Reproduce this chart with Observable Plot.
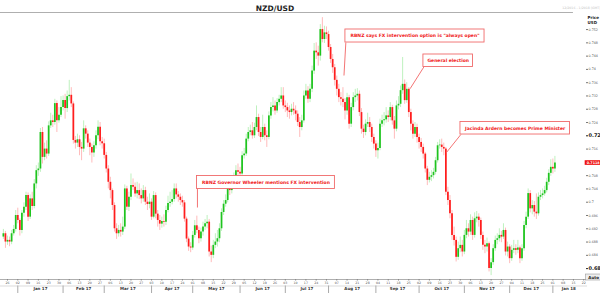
<!DOCTYPE html>
<html><head><meta charset="utf-8">
<script src="https://cdn.jsdelivr.net/npm/d3@7"></script>
<script src="https://cdn.jsdelivr.net/npm/@observablehq/plot@0.6"></script>
<style>
body{margin:0;background:#fff;}
#wrap{width:600px;height:293px;overflow:hidden;}
</style></head><body><div id="wrap"></div>
<script>
// trading-day index 0 = Mon 26 Dec 2016; first candle is index -2
const firstIndex = -2;
const firstOpen = 0.6895;
const closes = [
.6905,.6880,.6885,.6880,.6905,.6918,.6960,.6945,.6915,.6967,.6985,.7020,.6955,.7010,.6987,.7055,.7095,.7100,.7210,.7135,
.7160,.7145,.7230,.7245,.7240,.7297,.7245,.7262,.7285,.7306,.7282,.7318,.7322,.7296,.7186,.7178,.7188,.7165,.7160,.7221,
.7205,.7178,.7165,.7148,.7170,.7200,.7226,.7182,.7176,.7141,.7100,.7060,.7035,.6990,.6920,.6905,.6915,.6910,.6925,.7040,
.6985,.7015,.7050,.7045,.7025,.7035,.7020,.7010,.7035,.7000,.6993,.7000,.6955,.7020,.6964,.6945,.6934,.6942,.6940,.6975,
.6996,.7000,.7008,.7040,.7022,.7015,.7005,.6998,.6949,.6889,.6865,.6862,.6900,.6929,.6915,.6890,.6910,.6925,.6935,.6940,
.6850,.6840,.6870,.6880,.6890,.6920,.6969,.6994,.7005,.7044,.7035,.7045,.7075,.7095,.7090,.7085,.7140,.7145,.7190,.7210,
.7215,.7200,.7225,.7255,.7210,.7195,.7225,.7200,.7195,.7260,.7285,.7290,.7275,.7300,.7310,.7320,.7290,.7285,.7275,.7270,
.7280,.7275,.7265,.7240,.7225,.7245,.7320,.7335,.7310,.7340,.7395,.7455,.7450,.7440,.7520,.7490,.7510,.7505,.7466,.7430,
.7405,.7367,.7340,.7315,.7310,.7300,.7275,.7315,.7235,.7285,.7315,.7320,.7325,.7270,.7220,.7210,.7235,.7240,.7225,.7195,
.7175,.7155,.7162,.7235,.7245,.7248,.7260,.7255,.7285,.7245,.7220,.7290,.7295,.7336,.7355,.7306,.7340,.7270,.7235,.7205,
.7225,.7195,.7180,.7165,.7145,.7100,.7066,.7075,.7080,.7090,.7125,.7170,.7172,.7165,.7160,.7030,.7005,.6965,.6900,.6885,
.6834,.6860,.6870,.6850,.6900,.6920,.6910,.6945,.6900,.6950,.6955,.6945,.6900,.6870,.6865,.6875,.6800,.6818,.6860,.6885,
.6890,.6900,.6895,.6915,.6850,.6865,.6830,.6855,.6860,.6855,.6862,.6830,.6860,.6930,.6955,.7026,.6980,.6990,.6970,.6965,
.7015,.7020,.7025,.7035,.7060,.7087,.7105,.7100,.7118];
const highs = [
.6918,.6912,.6898,.6895,.6915,.6930,.6975,.6982,.6950,.6975,.6998,.7030,.7028,.7022,.7030,.7068,.7110,.7118,.7222,.7225,
.7178,.7185,.7242,.7268,.7262,.7310,.7305,.7285,.7318,.7320,.7325,.7335,.7367,.7345,.7302,.7198,.7205,.7200,.7180,.7245,
.7230,.7215,.7190,.7175,.7182,.7215,.7245,.7240,.7195,.7190,.7150,.7110,.7075,.7040,.6998,.6935,.6930,.6935,.6955,.7052,
.7048,.7030,.7085,.7070,.7058,.7060,.7055,.7040,.7050,.7045,.7015,.7025,.7010,.7032,.7028,.6975,.6960,.6955,.6962,.6988,
.7018,.7030,.7035,.7055,.7055,.7032,.7025,.7018,.7005,.6955,.6895,.6878,.6912,.6945,.6958,.6925,.6922,.6940,.6948,.6960,
.6948,.6868,.6885,.6905,.6915,.6935,.6980,.7005,.7022,.7058,.7060,.7065,.7088,.7110,.7115,.7105,.7152,.7162,.7205,.7225,
.7232,.7240,.7238,.7290,.7265,.7225,.7262,.7235,.7215,.7272,.7300,.7315,.7305,.7312,.7322,.7345,.7345,.7305,.7298,.7290,
.7295,.7300,.7290,.7275,.7255,.7262,.7335,.7355,.7348,.7355,.7410,.7478,.7480,.7470,.7535,.7556,.7530,.7528,.7515,.7475,
.7445,.7415,.7380,.7355,.7330,.7345,.7312,.7328,.7322,.7298,.7330,.7340,.7342,.7335,.7282,.7232,.7248,.7268,.7255,.7235,
.7205,.7185,.7178,.7250,.7262,.7270,.7285,.7275,.7300,.7292,.7258,.7305,.7318,.7350,.7436,.7368,.7360,.7345,.7280,.7245,
.7240,.7235,.7205,.7192,.7175,.7150,.7108,.7090,.7095,.7102,.7135,.7180,.7188,.7190,.7178,.7165,.7045,.7020,.6975,.6925,
.6895,.6880,.6895,.6885,.6915,.6945,.6935,.6962,.6955,.6968,.6972,.6965,.6952,.6910,.6885,.6892,.6880,.6830,.6872,.6898,
.6905,.6920,.6912,.6935,.6922,.6880,.6872,.6870,.6885,.6872,.6885,.6868,.6872,.6942,.6970,.7040,.7035,.7005,.7002,.7025,
.7028,.7035,.7040,.7048,.7072,.7098,.7128,.7130,.7138];
const lows = [
.6888,.6861,.6870,.6866,.6872,.6898,.6910,.6935,.6898,.6905,.6955,.6975,.6942,.6948,.6975,.6980,.7040,.7078,.7090,.7115,
.7125,.7130,.7138,.7222,.7225,.7232,.7210,.7238,.7255,.7275,.7250,.7270,.7305,.7285,.7175,.7160,.7165,.7140,.7125,.7150,
.7190,.7165,.7140,.7118,.7135,.7160,.7188,.7170,.7160,.7130,.7088,.7040,.7010,.6975,.6910,.6888,.6895,.6895,.6900,.6918,
.6975,.6972,.7005,.7035,.7015,.7010,.7008,.6995,.7000,.6990,.6975,.6980,.6945,.6950,.6950,.6925,.6915,.6922,.6925,.6930,
.6968,.6985,.6992,.7000,.7010,.7000,.6990,.6985,.6940,.6878,.6852,.6848,.6855,.6892,.6905,.6875,.6880,.6898,.6915,.6920,
.6835,.6818,.6830,.6860,.6865,.6878,.6912,.6960,.6985,.6998,.7020,.7025,.7040,.7065,.7078,.7070,.7078,.7130,.7138,.7182,
.7200,.7190,.7192,.7215,.7198,.7180,.7188,.7185,.7165,.7188,.7250,.7272,.7262,.7268,.7290,.7300,.7280,.7270,.7255,.7250,
.7260,.7262,.7245,.7228,.7195,.7215,.7238,.7310,.7298,.7300,.7330,.7385,.7430,.7410,.7425,.7480,.7478,.7490,.7455,.7418,
.7388,.7350,.7320,.7300,.7290,.7285,.7248,.7262,.7220,.7225,.7275,.7300,.7305,.7258,.7205,.7192,.7200,.7225,.7210,.7180,
.7160,.7135,.7130,.7155,.7225,.7230,.7238,.7240,.7245,.7232,.7190,.7212,.7278,.7285,.7325,.7295,.7298,.7255,.7215,.7190,
.7195,.7178,.7160,.7150,.7130,.7088,.7050,.7058,.7062,.7070,.7082,.7118,.7160,.7150,.7140,.7020,.6990,.6950,.6885,.6868,
.6820,.6825,.6848,.6835,.6842,.6890,.6895,.6900,.6885,.6892,.6938,.6925,.6888,.6855,.6845,.6850,.6790,.6779,.6810,.6852,
.6872,.6880,.6878,.6888,.6838,.6835,.6815,.6822,.6845,.6840,.6845,.6815,.6822,.6852,.6920,.6948,.6968,.6962,.6955,.6948,
.6958,.7005,.7010,.7018,.7028,.7050,.7078,.7085,.7090];

// x-axis: weekly tick labels at trading-day index 0, 5, 10, ...
const weekLabels = ["26","02","09","16","23","30","06","13","20","27","06","13","20","27","03","10","17","24",
"01","08","15","22","29","05","12","19","26","03","10","17","24","31","07","14","21","28","04","11","18","25",
"02","09","16","23","30","06","13","20","27","04","11","18","25","01","08","15","22"];
const monthLabels = ["Jan 17","Feb 17","Mar 17","Apr 17","May 17","Jun 17","Jul 17","Aug 17","Sep 17","Oct 17","Nov 17","Dec 17","Jan 18"];
const monthStarts = [5,27,47,70,90,113,135,156,179,200,222,244,265];
const axisEnd = 280.5;

// y-axis ticks (0.712 is covered by the last-price marker)
const priceTicks = [0.684,0.688,0.692,0.696,0.7,0.704,0.708,0.716,0.724,0.728,0.732,0.736,0.74,0.744,0.748,0.752];
const boldTicks = [0.68,0.72];

// annotations (anchored in index / price units)
const noteTexts = ["RBNZ Governor Wheeler mentions FX intervention",'RBNZ says FX intervention option is "always open"',"General election","Jacinda Ardern becomes Prime Minister"];
const noteX1 = [92.1,164.2,202.1,220.1];
const noteX2 = [159.1,231.8,226.2,273.3];
const noteTop = [0.70789,0.75202,0.74449,0.72416];
const noteBottom = [0.70398,0.74810,0.74072,0.72039];
const notePointX = [92.3,163.5,195.6,213.1];
const notePointY = [0.6984,0.73816,0.73416,0.71482];

const candles = closes.map((c, k) => ({
  i: firstIndex + k,
  open: k === 0 ? firstOpen : closes[k - 1],
  close: c, high: highs[k], low: lows[k]
}));
const ups = candles.filter(d => d.close >= d.open);
const downs = candles.filter(d => d.close < d.open);
const last = candles[candles.length - 1];

const notes = noteTexts.map((t, k) => ({
  text: t, x1: noteX1[k], x2: noteX2[k], top: noteTop[k], bottom: noteBottom[k],
  px: notePointX[k], py: notePointY[k],
  sx: noteX1[k] + 0.2
}));

const xMin = -3.401, xMax = 280.86;
const yMin = 0.67672, yMax = 0.75714;
const font = "DejaVu Sans, Verdana, sans-serif";
const weekTicks = weekLabels.map((_, k) => k * 5);
const monthCenters = monthStarts.map((s, k) => (s + (k + 1 < monthStarts.length ? monthStarts[k + 1] : axisEnd)) / 2);

const chart = Plot.plot({
  width: 600, height: 293,
  marginTop: 12, marginBottom: 14, marginLeft: 0, marginRight: 15,
  style: {fontFamily: font, background: "#fff", overflow: "visible"},
  x: {type: "linear", domain: [xMin, xMax]},
  y: {type: "linear", domain: [yMin, yMax]},
  marks: [
    // frame lines
    Plot.ruleY([yMax], {x1: xMin, x2: 275, stroke: "#9a9a9a", strokeWidth: 0.8}),
    Plot.ruleY([yMin], {x1: xMin, x2: xMax + 1, stroke: "#9a9a9a", strokeWidth: 0.8}),
    Plot.ruleY([yMin], {x1: xMin, x2: xMax + 1, dy: 6.5, stroke: "#c4c4c4", strokeWidth: 0.6}),
    // wicks
    Plot.ruleX(ups, {x: "i", y1: "low", y2: "high", stroke: "#b7efb7", strokeWidth: 0.9}),
    Plot.ruleX(downs, {x: "i", y1: "low", y2: "high", stroke: "#ffb3b3", strokeWidth: 0.9}),
    // bodies
    Plot.ruleX(ups, {x: "i", y1: "open", y2: "close", stroke: "#1ec41e", strokeWidth: 1.75}),
    Plot.ruleX(downs, {x: "i", y1: "open", y2: "close", stroke: "#ff1d1d", strokeWidth: 1.75}),
    // annotation connectors, boxes, texts
    Plot.link(notes, {x1: "sx", y1: "bottom", x2: "px", y2: "py", stroke: "#f26464", strokeWidth: 0.9}),
    Plot.rect(notes, {x1: "x1", x2: "x2", y1: "bottom", y2: "top", fill: "#fff", stroke: "#f06a6a", strokeWidth: 0.9}),
    Plot.text(notes, {x: d => (d.x1 + d.x2) / 2, y: d => (d.top + d.bottom) / 2, text: "text", fill: "#f01818", fontWeight: "bold", fontSize: 4.5, fontFamily: font}),
    // x axis: weekly day numbers
    Plot.axisX({ticks: weekTicks, tickFormat: (d, k) => weekLabels[k], tickSize: 1.5, tickPadding: 0.8, fontSize: 3.2, stroke: "#888", color: "#555"}),
    // x axis: month separators and labels
    Plot.axisX({ticks: monthStarts, tickFormat: () => "", tickSize: 7.5, dy: 6.5, stroke: "#aaa"}),
    Plot.axisX({ticks: monthCenters, tickFormat: (d, k) => monthLabels[k], tickSize: 0, tickPadding: 7.5, fontSize: 4, fontWeight: "bold", color: "#333"}),
    // y axis
    Plot.axisY({anchor: "right", ticks: priceTicks, tickFormat: d => String(+d.toFixed(3)), tickSize: 2, tickPadding: 1, fontSize: 3.3, stroke: "#777", color: "#555", label: null}),
    Plot.axisY({anchor: "right", ticks: boldTicks, tickFormat: d => String(+d.toFixed(3)), tickSize: 2, tickPadding: 1, fontSize: 5, fontWeight: "bold", color: "#222", label: null}),
    // last price marker
    Plot.rect([last], {x1: 280.7, x2: 288.5, y1: d => d.close - 0.0007, y2: d => d.close + 0.0007, fill: "#ee1111"}),
    Plot.text([last], {x: 284.6, y: "close", text: d => d.close.toFixed(4), fill: "#fff", fontSize: 3.4, fontWeight: "bold"}),
    // Price / USD label
    Plot.text(["Price", "USD"], {frameAnchor: "top-right", text: d => d, dx: 2, textAnchor: "start", fontSize: 4, fontWeight: "bold", fill: "#222"}),
    // Auto button
    Plot.rect([0], {x1: 281.2, x2: 288.4, y1: 0.67642, y2: 0.67822, fill: "#eeeeee", stroke: "#999", strokeWidth: 0.6}),
    Plot.text(["Auto"], {x: 284.8, y: 0.67732, text: d => d, fontSize: 4, fontWeight: "bold", fill: "#222"}),
    // title and date range
    Plot.text(["NZD/USD"], {frameAnchor: "top", text: d => d, dx: -18, dy: -7, fontSize: 7.5, fontWeight: "bold", fill: "#222"}),
    Plot.text(["12/2016 - 1/2018 (GMT)"], {frameAnchor: "top-right", text: d => d, dx: 15, dy: -5.5, textAnchor: "end", fontSize: 3.2, fill: "#c4c4c4"})
  ]
});
document.getElementById("wrap").appendChild(chart);
// stack Price / USD
chart.querySelectorAll("text").forEach(t => {
  if (t.textContent === "Price") t.setAttribute("dy", "3.5");
  if (t.textContent === "USD") t.setAttribute("dy", "8.5");
});
</script></body></html>
